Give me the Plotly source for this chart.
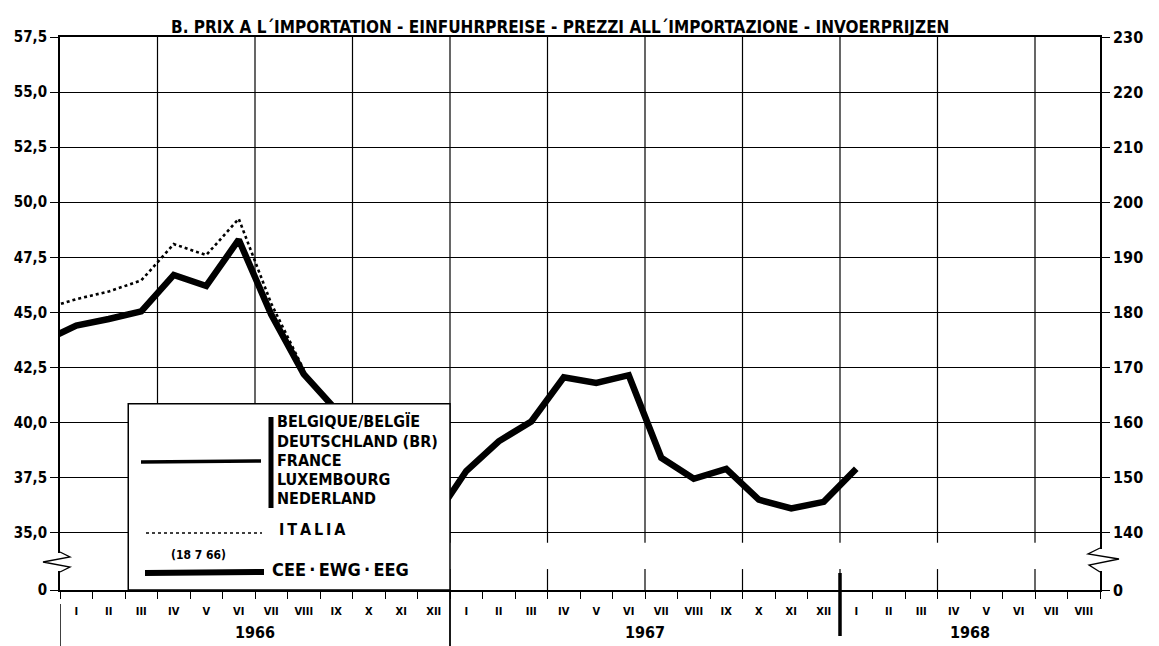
import plotly.graph_objects as go

# ---------------- data ----------------
# month index: 0 = I 1966 ... 31 = VIII 1968 ; -1 = XII 1965
cee_months = list(range(-1, 25))
cee_values = [43.7,
              44.4, 44.7, 45.05, 46.7, 46.2, 48.3, 44.9, 42.2, 40.6, 39.0, 37.3, 35.6,
              37.8, 39.15, 40.05, 42.05, 41.8, 42.15, 38.4, 37.45, 37.9, 36.5, 36.1, 36.4,
              37.9]
italia_months = list(range(-1, 8))
italia_values = [45.15, 45.6, 45.95, 46.45, 48.1, 47.6, 49.25, 45.4, 42.4]

month_labels = ["I", "II", "III", "IV", "V", "VI", "VII", "VIII", "IX", "X", "XI", "XII"]
years = ["1966", "1967", "1968"]
year_centers = [5.5, 17.5, 27.5]

left_ticks = [35.0, 37.5, 40.0, 42.5, 45.0, 47.5, 50.0, 52.5, 55.0, 57.5]
left_ticktext = ["35,0", "37,5", "40,0", "42,5", "45,0", "47,5", "50,0", "52,5", "55,0", "57,5"]
right_ticks = [140, 150, 160, 170, 180, 190, 200, 210, 220, 230]
right_factor = 4.0
zero_pos = 32.4          # display position of the "0" after the axis break

title_text = "B. PRIX A L´IMPORTATION - EINFUHRPREISE - PREZZI ALL´IMPORTAZIONE - INVOERPRIJZEN"
legend_countries = ["BELGIQUE/BELGÏE", "DEUTSCHLAND (BR)", "FRANCE", "LUXEMBOURG", "NEDERLAND"]

# ---------------- layout geometry ----------------
W, H = 1159, 646
ML, MR, MT, MB = 60, 59, 37, 56
PW, PH = W - ML - MR, H - MT - MB
FONT = "DejaVu Sans Condensed, Liberation Sans Narrow, DejaVu Sans, sans-serif"
TS = "\u2009"  # thin space


def px(x):
    return (x - ML) / PW


def py(y):
    return (H - MB - y) / PH


def b(t):
    return "<b>" + t + "</b>"


n_months = 32
x_range = [-0.5, n_months - 0.5]
y_range = [zero_pos, 57.5]

fig = go.Figure()

fig.add_trace(go.Scatter(
    x=italia_months, y=italia_values, mode="lines",
    line=dict(color="black", width=2.6, dash="dot"),
    showlegend=False, hoverinfo="skip"))
fig.add_trace(go.Scatter(
    x=cee_months, y=cee_values, mode="lines",
    line=dict(color="black", width=6.5),
    showlegend=False, hoverinfo="skip"))
# same series on the right-hand scale (invisible) so the right axis exists
fig.add_trace(go.Scatter(
    x=cee_months, y=[v * right_factor for v in cee_values], mode="lines",
    line=dict(color="rgba(0,0,0,0)", width=0), yaxis="y2",
    showlegend=False, hoverinfo="skip"))

# x tick labels: roman month numerals
x_tickvals = list(range(n_months))
x_ticktext = [b(month_labels[i % 12]) for i in range(n_months)]

shapes = []
# vertical grid lines every quarter
for q in [2.5, 5.5, 8.5, 11.5, 14.5, 17.5, 20.5, 23.5, 26.5, 29.5]:
    shapes.append(dict(type="line", xref="x", yref="y", x0=q, x1=q, y0=34.55, y1=57.5,
                       line=dict(color="black", width=1.2), layer="below"))
    shapes.append(dict(type="line", xref="x", yref="y", x0=q, x1=q, y0=zero_pos, y1=33.35,
                       line=dict(color="black", width=1.2), layer="below"))

# year separators below axis
shapes.append(dict(type="line", xref="x", yref="paper", x0=-0.5, x1=-0.5, y0=py(604), y1=py(646),
                   line=dict(color="black", width=1.5)))
shapes.append(dict(type="line", xref="x", yref="paper", x0=11.5, x1=11.5, y0=py(590), y1=py(646),
                   line=dict(color="black", width=1.8)))
shapes.append(dict(type="line", xref="x", yref="paper", x0=23.5, x1=23.5, y0=py(573), y1=py(636),
                   line=dict(color="black", width=3.5)))

# axis-break zigzags
brk_y = 562
shapes.append(dict(type="line", xref="paper", yref="paper", x0=px(ML), x1=px(ML),
                   y0=py(brk_y - 9), y1=py(brk_y + 9), line=dict(color="white", width=4),
                   layer="above"))
shapes.append(dict(type="path", xref="paper", yref="paper", layer="above",
                   path="M {} {} L {} {} L {} {} L {} {} L {} {}".format(
                       px(ML), py(brk_y - 10), px(ML + 10), py(brk_y - 5), px(ML - 17), py(brk_y),
                       px(ML + 10), py(brk_y + 5), px(ML), py(brk_y + 10)),
                   line=dict(color="black", width=1.3)))
RX = W - MR
shapes.append(dict(type="line", xref="paper", yref="paper", x0=px(RX), x1=px(RX),
                   y0=py(brk_y - 13), y1=py(brk_y + 9), line=dict(color="white", width=4),
                   layer="above"))
shapes.append(dict(type="path", xref="paper", yref="paper", layer="above",
                   path="M {} {} L {} {} L {} {} L {} {} L {} {}".format(
                       px(RX), py(brk_y - 14), px(RX - 12), py(brk_y - 8), px(RX + 19), py(brk_y - 3),
                       px(RX - 11), py(brk_y + 3), px(RX), py(brk_y + 10)),
                   line=dict(color="black", width=1.3)))

# legend box (white, covers the chart)
shapes.append(dict(type="rect", xref="x", yref="y", x0=1.6, x1=11.5, y0=zero_pos, y1=40.85,
                   fillcolor="white", line=dict(color="black", width=1.5), layer="above"))
# legend samples
shapes.append(dict(type="line", xref="paper", yref="paper", x0=px(141), x1=px(261),
                   y0=py(462), y1=py(461), line=dict(color="black", width=3.5), layer="above"))
shapes.append(dict(type="line", xref="paper", yref="paper", x0=px(271), x1=px(271),
                   y0=py(417), y1=py(508), line=dict(color="black", width=5), layer="above"))
shapes.append(dict(type="line", xref="paper", yref="paper", x0=px(146), x1=px(262),
                   y0=py(533), y1=py(533), line=dict(color="black", width=1.6, dash="dot"),
                   layer="above"))
shapes.append(dict(type="line", xref="paper", yref="paper", x0=px(145), x1=px(264),
                   y0=py(573), y1=py(572), line=dict(color="black", width=6), layer="above"))

annotations = []
annotations.append(dict(text=b(title_text), xref="paper", yref="paper", x=px(560), y=1,
                        xanchor="center", yanchor="bottom", yshift=-2, showarrow=False,
                        font=dict(family=FONT, size=17, color="black")))
for i, c in enumerate(legend_countries):
    annotations.append(dict(text=b(c), xref="paper", yref="paper", x=px(275), y=py(422 + 19 * i),
                            xanchor="left", yanchor="middle", showarrow=False,
                            font=dict(family=FONT, size=16, color="black")))
annotations.append(dict(text=b(TS.join("ITALIA")), xref="paper", yref="paper", x=px(277),
                        y=py(529), xanchor="left", yanchor="middle", showarrow=False,
                        font=dict(family=FONT, size=16, color="black")))
annotations.append(dict(text=b("(18 7 66)"), xref="paper", yref="paper", x=px(198), y=py(555),
                        xanchor="center", yanchor="middle", showarrow=False,
                        font=dict(family=FONT, size=12, color="black")))
annotations.append(dict(text=b("CEE" + TS + "·" + TS + "EWG" + TS + "·" + TS + "EEG"),
                        xref="paper", yref="paper", x=px(270),
                        y=py(569), xanchor="left", yanchor="middle", showarrow=False,
                        font=dict(family=FONT, size=18, color="black")))
for yr, xc in zip(years, year_centers):
    annotations.append(dict(text=b(yr), xref="x", yref="paper", x=xc, y=py(632),
                            xanchor="center", yanchor="middle", showarrow=False,
                            font=dict(family=FONT, size=16, color="black")))

fig.update_layout(
    width=W, height=H,
    margin=dict(l=ML, r=MR, t=MT, b=MB),
    paper_bgcolor="white", plot_bgcolor="white",
    showlegend=False,
    shapes=shapes, annotations=annotations,
    xaxis=dict(range=x_range, tickmode="array", tickvals=x_tickvals, ticktext=x_ticktext,
               ticks="outside", ticklen=10, tickcolor="rgba(0,0,0,0)",
               tickfont=dict(family=FONT, size=11, color="black"), tickangle=0,
               showgrid=False, zeroline=False,
               showline=True, linecolor="black", linewidth=2, mirror=True,
               minor=dict(tickmode="array", tickvals=[m - 0.5 for m in range(n_months + 1)],
                          ticks="outside", ticklen=7, tickcolor="black", tickwidth=1.2,
                          showgrid=False)),
    yaxis=dict(range=y_range, tickmode="array", tickvals=[zero_pos] + left_ticks,
               ticktext=[b(t) for t in ["0"] + left_ticktext],
               ticks="outside", ticklen=8, tickcolor="black", tickwidth=1.2,
               tickfont=dict(family=FONT, size=15, color="black"),
               showgrid=True, gridcolor="black", gridwidth=1.1, zeroline=False,
               showline=True, linecolor="black", linewidth=1.8),
    yaxis2=dict(range=[y_range[0] * right_factor, y_range[1] * right_factor],
                overlaying="y", side="right", tickmode="array",
                tickvals=[zero_pos * right_factor] + right_ticks,
                ticktext=[b(t) for t in ["0"] + [str(t) for t in right_ticks]],
                ticks="outside", ticklen=8, tickcolor="black", tickwidth=1.2,
                tickfont=dict(family=FONT, size=16, color="black"),
                showgrid=False, zeroline=False,
                showline=True, linecolor="black", linewidth=1.8),
)

fig.write_html("out.html",
               config={"displayModeBar": False},
               post_script="document.body.style.margin='0';document.body.style.padding='0';"
                           "document.body.style.overflow='hidden';")
